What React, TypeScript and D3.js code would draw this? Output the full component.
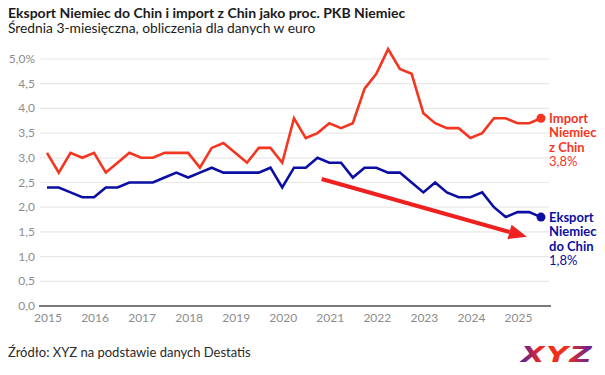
import React from "react";
import * as d3 from "d3";

const importValues = [
  3.1, 2.7, 3.1, 3.0, 3.1, 2.7, 2.9, 3.1, 3.0, 3.0, 3.1, 3.1, 3.1, 2.8, 3.2, 3.3,
  3.1, 2.9, 3.2, 3.2, 2.9, 3.8, 3.4, 3.5, 3.7, 3.6, 3.7, 4.4, 4.7, 5.2, 4.8, 4.7,
  3.9, 3.7, 3.6, 3.6, 3.4, 3.5, 3.8, 3.8, 3.7, 3.7, 3.8,
];
const exportValues = [
  2.4, 2.4, 2.3, 2.2, 2.2, 2.4, 2.4, 2.5, 2.5, 2.5, 2.6, 2.7, 2.6, 2.7, 2.8, 2.7,
  2.7, 2.7, 2.7, 2.8, 2.4, 2.8, 2.8, 3.0, 2.9, 2.9, 2.6, 2.8, 2.8, 2.7, 2.7, 2.5,
  2.3, 2.5, 2.3, 2.2, 2.2, 2.3, 2.0, 1.8, 1.9, 1.9, 1.8,
];
const yearLabels = ["2015", "2016", "2017", "2018", "2019", "2020", "2021", "2022", "2023", "2024", "2025"];
const yTicks = [0, 0.5, 1, 1.5, 2, 2.5, 3, 3.5, 4, 4.5, 5];
const importLabel = ["Import", "Niemiec", "z Chin"];
const importValueLabel = "3,8%";
const exportLabel = ["Eksport", "Niemiec", "do Chin"];
const exportValueLabel = "1,8%";
// trend arrow annotation: [quarter index, value]
const arrowStart = [23.35, 2.57];
const arrowEnd = [40.8, 1.4];

const RED = "#f4351f";
const BLUE = "#0b0ea3";
const GRAY = "#8c8c8c";
const FONT = "Lato, 'Open Sans', sans-serif";

export default function App() {
  const W = 605;
  const H = 375;
  const n = importValues.length;
  const x = d3.scaleLinear().domain([0, n - 1]).range([47, 541]);
  const y = d3.scaleLinear().domain([0, 5]).range([306, 59]);

  const line = d3
    .line<number>()
    .x((_, i) => x(i))
    .y((d) => y(d));

  const fmt = (v: number) => v.toFixed(1).replace(".", ",");

  const ax1 = x(arrowStart[0]);
  const ay1 = y(arrowStart[1]);
  const ax2 = x(arrowEnd[0]);
  const ay2 = y(arrowEnd[1]);
  const ang = Math.atan2(ay2 - ay1, ax2 - ax1);
  const headLen = 18;
  const headHalf = 7.5;
  const bx = ax2 - headLen * Math.cos(ang);
  const by = ay2 - headLen * Math.sin(ang);
  const px = -Math.sin(ang);
  const py = Math.cos(ang);
  const head = `M${ax2},${ay2} L${bx + px * headHalf},${by + py * headHalf} L${bx - px * headHalf},${by - py * headHalf} Z`;

  const lastI = n - 1;

  return (
    <svg
      width={W}
      height={H}
      style={{ position: "absolute", left: 0, top: 0, background: "#fff" }}
      fontFamily={FONT}
    >
      <defs>
        <linearGradient id="logoGrad" x1="0" x2="1" y1="0" y2="0">
          <stop offset="0%" stopColor="#3a1fb0" />
          <stop offset="30%" stopColor="#f02a1c" />
          <stop offset="65%" stopColor="#f0301c" />
          <stop offset="100%" stopColor="#5a1fa8" />
        </linearGradient>
      </defs>
      <text x={8} y={17.5} fontSize={14} fontWeight={700} fill="#1a1a1a">
        Eksport Niemiec do Chin i import z Chin jako proc. PKB Niemiec
      </text>
      <text x={8} y={33} fontSize={13.8} fill="#1a1a1a">
        Średnia 3-miesięczna, obliczenia dla danych w euro
      </text>

      {yTicks.map((t) => (
        <g key={t}>
          {t > 0 && (
            <line x1={40} x2={549} y1={y(t)} y2={y(t)} stroke="#e8e8e8" strokeWidth={1.2} />
          )}
          <text x={35} y={y(t) + 4} fontSize={12} fill={GRAY} textAnchor="end">
            {t === 5 ? "5,0%" : fmt(t)}
          </text>
        </g>
      ))}
      <line x1={39} x2={551} y1={y(0)} y2={y(0)} stroke="#7a7a7a" strokeWidth={2} />
      {yearLabels.map((yl, i) => (
        <text key={yl} x={x(i * 4) + 1} y={322} fontSize={12} fill={GRAY} textAnchor="middle">
          {yl}
        </text>
      ))}

      <path d={line(importValues) || ""} fill="none" stroke={RED} strokeWidth={2.6} strokeLinejoin="miter" />
      <path d={line(exportValues) || ""} fill="none" stroke={BLUE} strokeWidth={2.6} strokeLinejoin="miter" />
      <circle cx={x(lastI)} cy={y(importValues[lastI])} r={4.5} fill={RED} />
      <circle cx={x(lastI)} cy={y(exportValues[lastI])} r={4.5} fill={BLUE} />

      <line x1={ax1} y1={ay1} x2={bx} y2={by} stroke="#ef2020" strokeWidth={4} />
      <path d={head} fill="#ef2020" />

      <g fontSize={13} fill={RED}>
        {importLabel.map((s, i) => (
          <text key={s} x={549} y={122.5 + i * 14.5} fontWeight={700}>
            {s}
          </text>
        ))}
        <text x={549} y={122.5 + 3 * 14.5}>{importValueLabel}</text>
      </g>
      <g fontSize={13} fill={BLUE}>
        {exportLabel.map((s, i) => (
          <text key={s} x={549} y={221.5 + i * 14.5} fontWeight={700}>
            {s}
          </text>
        ))}
        <text x={549} y={221.5 + 3 * 14.5}>{exportValueLabel}</text>
      </g>

      <text x={8} y={357} fontSize={13} fill="#2a2a2a">
        Źródło: XYZ na podstawie danych Destatis
      </text>
      <text
        x={557}
        y={362}
        fontSize={22}
        fontWeight={900}
        fontStyle="italic"
        textAnchor="middle"
        fill="url(#logoGrad)"
        letterSpacing={1}
        fontFamily="'DejaVu Sans', sans-serif"
        textLength={72}
        lengthAdjust="spacingAndGlyphs"
      >
        XYZ
      </text>
    </svg>
  );
}
